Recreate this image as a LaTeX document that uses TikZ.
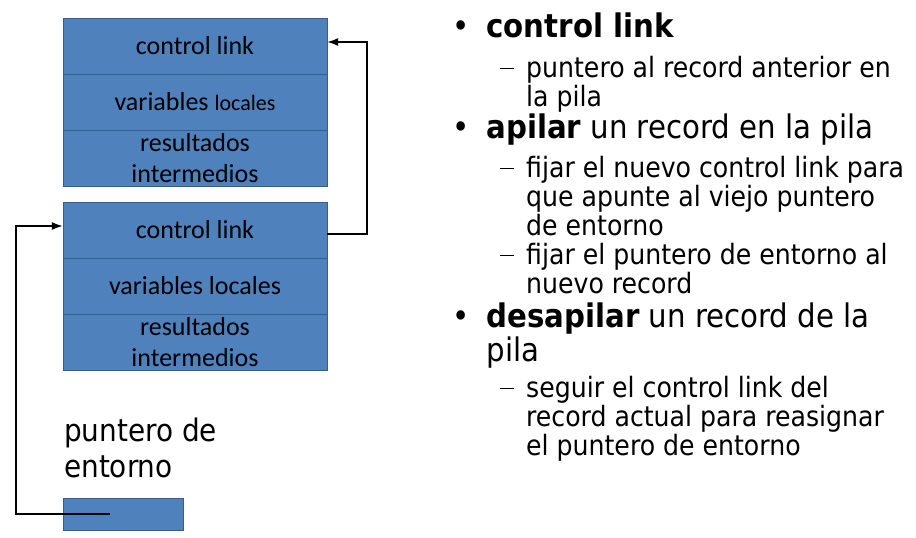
\documentclass[tikz,border=0pt]{standalone}
\usepackage{fontspec}
\setmainfont{DejaVu Sans Condensed}
\newfontfamily\boxfont{Carlito}
\usetikzlibrary{arrows.meta}
\usetikzlibrary{positioning}
\definecolor{recblue}{HTML}{4F81BD}
\definecolor{recedge}{HTML}{385D8A}
\newcommand{\subdash}{\rule[8pt]{14pt}{1.6pt}\hspace{12pt}}

\begin{document}
\begin{tikzpicture}[x=1pt,y=-1pt]
\tikzset{
    fieldNode/.style={
                   draw=recedge,
                   fill=recblue,
                   minimum width=264pt,
                   minimum height=56pt,
                   inner sep=0pt,
                   align=center,
                   font=\boxfont\fontsize{26}{31}\selectfont
    },
    itemText/.style={
                   anchor=north west,
                   align=left,
                   inner sep=0pt,
                   font=\fontsize{32.5}{31}\selectfont
    },
    subText/.style={
                   anchor=north west,
                   align=left,
                   inner sep=0pt,
                   font=\fontsize{28}{25.5}\selectfont
    }
}
    \useasboundingbox (0,0) rectangle (916,538);

    % upper record
    \node (cl1)[fieldNode] at (195,46) {control link};
    \node (vl1)[fieldNode] at (195,102) {variables {\fontsize{22}{24}\selectfont locales}};
    \node (ri1)[fieldNode] at (195,158) {resultados\\intermedios};
    % lower record
    \node (cl2)[fieldNode] at (195,230) {control link};
    \node (vl2)[fieldNode] at (195,286) {variables locales};
    \node (ri2)[fieldNode] at (195,342) {resultados\\intermedios};

    \node (lbl)[anchor=north west, align=left, inner sep=0pt,
                font=\fontsize{31}{36}\selectfont] at (64,418) {puntero de\\entorno};
    \node (pe)[fieldNode, minimum width=120pt, minimum height=32pt] at (123,514) {};
    \coordinate (pein) at (110,514);

    \draw[->, line width=1.6pt, >={Latex[length=11pt,width=8pt]}] ([yshift=-4pt]cl2.east) -- ++(40,0) |- ([yshift=4pt]cl1.east);
    \draw[->, line width=1.6pt, >={Latex[length=11pt,width=8pt]}] (pein) -- ++(-94,0) |- ([yshift=4pt]cl2.west);

    % bullet list
    \node (b1)[itemText] at (452,13) {\textbullet\hspace{17pt}\textbf{control link}};
    \node (s1)[subText] at (500,56) {\subdash\begin{tabular}[t]{@{}l@{}}puntero al record anterior en\\la pila\end{tabular}};
    \node (b2)[itemText] at (452,114) {\textbullet\hspace{17pt}\textbf{apilar} un record en la pila};
    \node (s2)[subText] at (500,156) {\subdash\begin{tabular}[t]{@{}l@{}}fijar el nuevo control link para\\que apunte al viejo puntero\\de entorno\end{tabular}};
    \node (s3)[subText] at (500,243) {\subdash\begin{tabular}[t]{@{}l@{}}fijar el puntero de entorno al\\nuevo record\end{tabular}};
    \node (b3)[itemText] at (452,303) {\textbullet\hspace{17pt}\begin{tabular}[t]{@{}l@{}}\textbf{desapilar} un record de la\\pila\end{tabular}};
    \node (s4)[subText] at (500,376) {\subdash\begin{tabular}[t]{@{}l@{}}seguir el control link del\\record actual para reasignar\\el puntero de entorno\end{tabular}};

\end{tikzpicture}
\end{document}
